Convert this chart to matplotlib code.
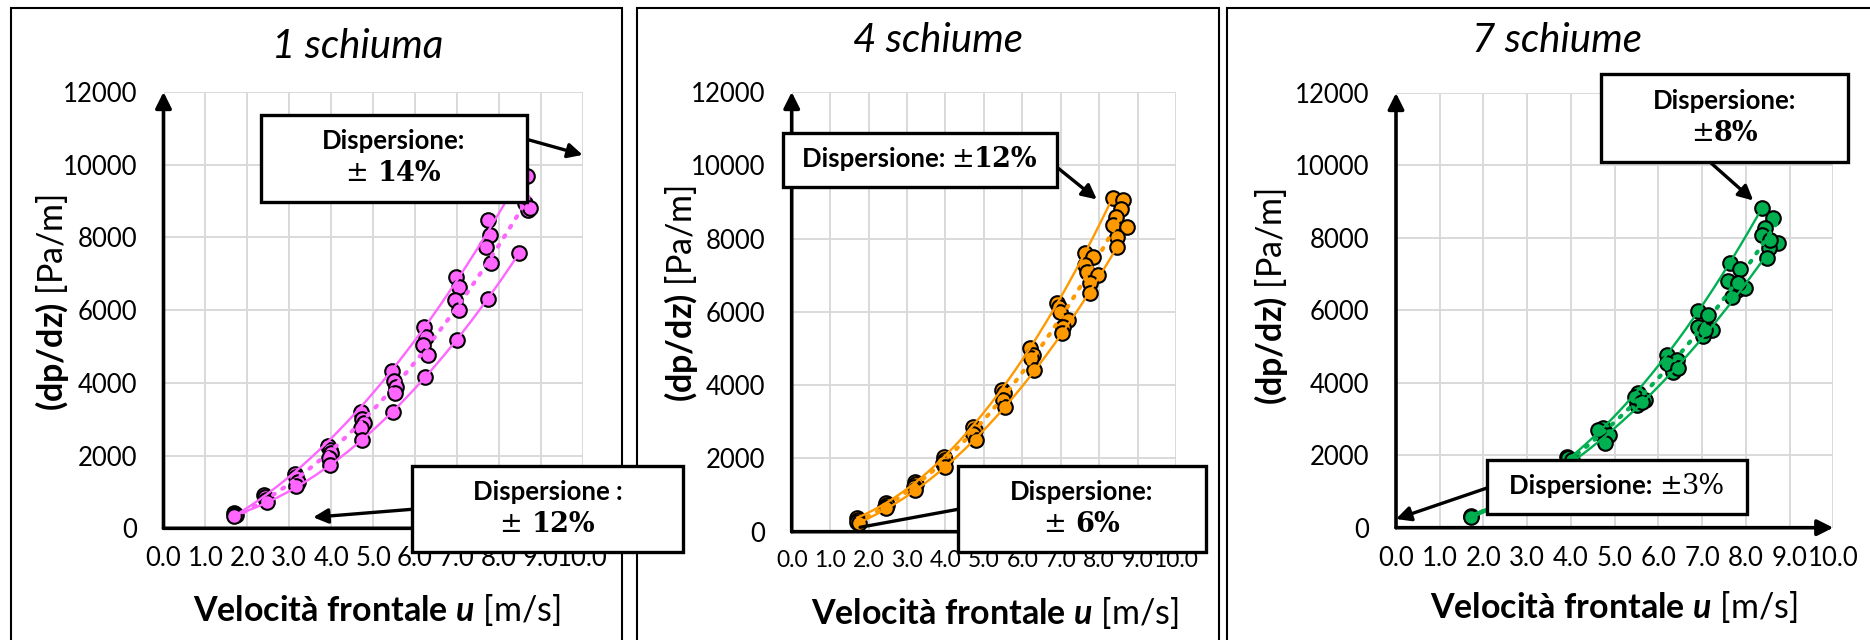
import numpy as np
import matplotlib
matplotlib.use('Agg')
from matplotlib import pyplot as plt
from matplotlib.patches import Rectangle
from matplotlib.offsetbox import TextArea, HPacker, VPacker, AnnotationBbox

plt.rcParams['font.family'] = ['Lato', 'DejaVu Sans']
plt.rcParams['mathtext.fontset'] = 'custom'
plt.rcParams['mathtext.rm'] = 'Lato'
plt.rcParams['mathtext.bf'] = 'Lato:bold'
plt.rcParams['mathtext.it'] = 'Lato:italic'
plt.rcParams['mathtext.bfit'] = 'Lato:bold:italic'

W, H = 1870, 640

# ---- dati ----
titles = ['1 schiuma', '4 schiume', '7 schiume']
colors = ['#FF66FF', '#FF9900', '#00B050']

u_1 = [1.68, 1.70, 1.72, 1.69,
       2.40, 2.43, 2.45, 2.47,
       3.13, 3.16, 3.20, 3.15,
       3.93, 3.97, 4.00, 3.95, 3.96,
       4.70, 4.73, 4.78, 4.72, 4.74,
       5.46, 5.50, 5.55, 5.52, 5.48,
       6.22, 6.26, 6.20, 6.30, 6.24,
       6.98, 7.04, 6.96, 7.06, 7.00,
       7.73, 7.78, 7.70, 7.82, 7.75,
       8.66, 8.62, 8.70, 8.74, 8.47]
dp_1 = [420, 390, 360, 330,
        920, 850, 780, 720,
        1500, 1400, 1280, 1150,
        2250, 2150, 2060, 1930, 1740,
        3210, 3000, 2890, 2750, 2430,
        4340, 4050, 3900, 3710, 3210,
        5550, 5270, 5040, 4770, 4170,
        6920, 6650, 6280, 6000, 5180,
        8480, 8070, 7750, 7290, 6300,
        9690, 8950, 8760, 8800, 7580]

u_4 = [1.71, 1.73, 1.70, 1.74,
       2.45, 2.47, 2.43, 2.46,
       3.21, 3.24, 3.19, 3.22,
       3.96, 3.99, 3.95, 4.00,
       4.71, 4.76, 4.73, 4.79,
       5.46, 5.52, 5.49, 5.55,
       6.20, 6.27, 6.22, 6.30,
       6.90, 6.95, 6.98, 7.20, 7.05, 7.03,
       7.63, 7.85, 7.63, 7.68, 7.98, 7.76, 7.75,
       8.35, 8.61, 8.56, 8.44, 8.37, 8.72, 8.47, 8.47]
dp_4 = [370, 320, 270, 230,
        780, 730, 680, 640,
        1370, 1300, 1230, 1150,
        2050, 1950, 1870, 1770,
        2870, 2780, 2680, 2500,
        3870, 3780, 3600, 3410,
        5000, 4820, 4730, 4410,
        6230, 6120, 6000, 5780, 5600, 5410,
        7600, 7500, 7280, 7090, 7000, 6780, 6520,
        9120, 9050, 8820, 8590, 8370, 8320, 8050, 7780]

u_7 = [1.71, 1.72,
       3.90, 3.94, 4.02,
       4.74, 4.66, 4.86, 4.78, 4.63,
       5.54, 5.69, 5.50, 5.47, 5.62,
       6.19, 6.42, 6.30, 6.34, 6.19, 6.46,
       6.91, 7.14, 6.91, 7.22, 7.03, 7.07,
       7.64, 7.87, 7.60, 7.79, 7.98, 7.68, 7.83,
       8.36, 8.61, 8.44, 8.36, 8.74, 8.52, 8.48, 8.55]
dp_7 = [330, 300,
        1960, 1920, 1870,
        2750, 2610, 2560, 2330, 2700,
        3710, 3530, 3390, 3620, 3480,
        4770, 4630, 4450, 4310, 4540, 4400,
        5990, 5880, 5550, 5460, 5280, 5460,
        7320, 7140, 6800, 6570, 6610, 6380, 6750,
        8820, 8550, 8270, 8090, 7870, 7720, 7440, 7950]

x_ticks = np.arange(0, 11, 1)
y_ticks = np.arange(0, 12001, 2000)
cluster_edges = [2.05, 2.8, 3.55, 4.3, 5.1, 5.85, 6.6, 7.35, 8.1]


def px_rect(x0, x1, y0, y1):
    # pixel (origine in alto a sinistra) -> frazione di figura
    return [x0 / W, 1 - y0 / H, (x1 - x0) / W, (y0 - y1) / H]


def fig_xy(x, y):
    return (x / W, 1 - y / H)


def draw_panel(fig, rect, u, dp, color, arrow_x, xlab_size=18.5):
    u = np.array(u, dtype=float)
    dp = np.array(dp, dtype=float)
    ax = fig.add_axes(rect)
    ax.set_xlim(0, 10)
    ax.set_ylim(0, 12000)
    ax.set_xticks(x_ticks)
    ax.set_xticklabels(['{:.1f}'.format(v) for v in x_ticks])
    ax.set_yticks(y_ticks)
    ax.set_yticklabels(['{:d}'.format(v) for v in y_ticks])
    ax.tick_params(length=0, labelsize=18.5, colors='black')
    ax.tick_params(axis='y', pad=19)
    ax.tick_params(axis='x', pad=13, labelsize=xlab_size)
    ax.grid(color='#D9D9D9', lw=1.4)
    ax.set_axisbelow(True)
    for s in ax.spines.values():
        s.set_visible(False)

    # assi con frecce
    ax.annotate('', xy=(0, 1), xytext=(0, 0), xycoords='axes fraction',
                arrowprops=dict(arrowstyle='-|>', color='black', lw=2.6,
                                mutation_scale=24, shrinkA=0, shrinkB=0))
    ax.annotate('', xy=(1, 0), xytext=(0, 0), xycoords='axes fraction',
                arrowprops=dict(arrowstyle='-|>' if arrow_x else '-', color='black',
                                lw=2.6, mutation_scale=24, shrinkA=0, shrinkB=0))

    # curve di dispersione (max / min / media)
    g = np.digitize(u, cluster_edges)
    xh, hi, xl, lo = [], [], [], []
    for k in np.unique(g):
        sel = g == k
        uu, dd = u[sel], dp[sel]
        xh.append(uu[np.argmax(dd)])
        hi.append(dd.max())
        xl.append(uu[np.argmin(dd)])
        lo.append(dd.min())
    for xs, ys in ((xh, hi), (xl, lo)):
        c = np.polyfit(xs, ys, 2)
        xx = np.linspace(min(xs), max(xs), 200)
        ax.plot(xx, np.polyval(c, xx), color=color, lw=1.7, zorder=4)
    c = np.polyfit(u, dp, 2)
    xx = np.linspace(u.min(), u.max(), 200)
    ax.plot(xx, np.polyval(c, xx), color=color, lw=3, ls=(0, (0.5, 2.2)),
            dash_capstyle='round', zorder=4)

    ax.scatter(u, dp, s=10.5 ** 2, c=color, edgecolors='black', linewidths=1.5,
               zorder=3, clip_on=False)
    return ax


def make_lines(lines, size=18.5, serif_size=19.5):
    rows = []
    for parts in lines:
        areas = []
        for txt, fam, wt in parts:
            fs = serif_size if fam == SERIF else size
            areas.append(TextArea(txt, textprops=dict(fontsize=fs, family=fam,
                                                      fontweight=wt, color='black')))
        rows.append(HPacker(children=areas, align='baseline', pad=0, sep=0))
    return VPacker(children=rows, align='center', pad=0, sep=5)


def draw_box(fig, x0, y0, x1, y1, lines):
    fig.add_artist(Rectangle(fig_xy(x0, y1), (x1 - x0) / W, (y1 - y0) / H,
                             transform=fig.transFigure, fc='white', ec='black',
                             lw=2.4, zorder=5))
    ab = AnnotationBbox(make_lines(lines), fig_xy((x0 + x1) / 2, (y0 + y1) / 2),
                        xycoords='figure fraction', frameon=False, zorder=6)
    fig.add_artist(ab)


def arrow(ax, tip, start, head=True):
    ax.annotate('', xy=tip, xycoords='data', xytext=fig_xy(*start),
                textcoords='figure fraction', annotation_clip=False,
                arrowprops=dict(arrowstyle='-|>' if head else '-', color='black',
                                lw=2.4, mutation_scale=22, shrinkA=0, shrinkB=0))


SANS = 'Lato'
SERIF = 'DejaVu Serif'

fig = plt.figure(figsize=(W / 100, H / 100), dpi=100)

# cornici dei tre grafici
for x0, x1 in ((11, 622), (637, 1219), (1227, 1880)):
    fig.add_artist(Rectangle(fig_xy(x0, 660), (x1 - x0) / W, (660 - 8) / H,
                             transform=fig.transFigure, fc='none', ec='black',
                             lw=1.5, zorder=1))

ax1 = draw_panel(fig, px_rect(163.5, 582.7, 528.3, 92), u_1, dp_1, colors[0], False)
ax2 = draw_panel(fig, px_rect(791.7, 1176, 531.7, 92), u_4, dp_4, colors[1], False,
                 xlab_size=16.5)
ax3 = draw_panel(fig, px_rect(1396, 1833.3, 527.7, 93), u_7, dp_7, colors[2], True)

# titoli ed etichette
for (tx, ty), t in zip(((358, 47), (938, 41), (1557, 41)), titles):
    fig.text(*fig_xy(tx, ty), t, fontsize=29, style='italic', ha='center', va='center')
ylab = r'$\mathbf{(dp/dz)}$ [Pa/m]'
xlab = r'$\mathbf{Velocità\ frontale}\ \mathbfit{u}$ [m/s]'
for (lx, ly) in ((52, 302), (681, 293), (1271, 296)):
    fig.text(*fig_xy(lx, ly), ylab, fontsize=24.5, rotation=90, ha='center', va='center')
for (lx, ly) in ((377, 610), (995, 613), (1614, 607)):
    fig.text(*fig_xy(lx, ly), xlab, fontsize=24.5, ha='center', va='center')

# riquadri "Dispersione"
arrow(ax1, (10.0, 10270), (526.7, 139.3))
draw_box(fig, 260.7, 115, 526.7, 201.7,
         [[('Dispersione:', SANS, 'bold')],
          [('± ', SERIF, 'normal'), ('14%', SERIF, 'bold')]])
arrow(ax1, (3.57, 303), (412, 509.3))
draw_box(fig, 412, 466, 683, 552,
         [[('Dispersione :', SANS, 'bold')],
          [('± ', SERIF, 'normal'), ('12%', SERIF, 'bold')]])

arrow(ax2, (7.94, 9068), (1058.3, 168.3))
draw_box(fig, 782.7, 132.7, 1056.7, 186.7,
         [[('Dispersione: ', SANS, 'bold'), ('±', SERIF, 'normal'), ('12%', SERIF, 'bold')]])
arrow(ax2, (1.78, 120), (958, 509.3), head=False)
draw_box(fig, 958, 466, 1206, 552,
         [[('Dispersione:', SANS, 'bold')],
          [('± ', SERIF, 'normal'), ('6%', SERIF, 'bold')]])

arrow(ax3, (8.17, 9032), (1711, 163))
draw_box(fig, 1600.7, 73.5, 1848, 161.7,
         [[('Dispersione:', SANS, 'bold')],
          [('±', SERIF, 'normal'), ('8%', SERIF, 'bold')]])
arrow(ax3, (0.0, 240), (1487, 488))
draw_box(fig, 1487, 460, 1747, 514,
         [[('Dispersione: ', SANS, 'bold'), ('±', SERIF, 'normal'), ('3%', SERIF, 'normal')]])

fig.savefig('out.png', dpi=100)
